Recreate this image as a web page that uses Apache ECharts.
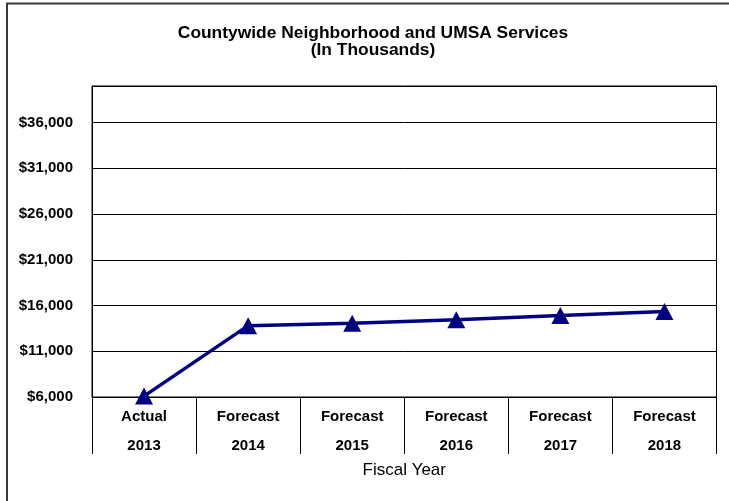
<!DOCTYPE html>
<html>
<head>
<meta charset="utf-8">
<title>Countywide Neighborhood and UMSA Services</title>
<script src="https://cdn.jsdelivr.net/npm/echarts@6/dist/echarts.min.js"></script>
<style>
  html, body { margin: 0; padding: 0; background: #fff; }
  #chart { width: 729px; height: 501px; }
</style>
</head>
<body>
<div id="chart"></div>
<script>
// Fiscal years: label row 1 (status) and row 2 (year)
const periodLabels = ['Actual', 'Forecast', 'Forecast', 'Forecast', 'Forecast', 'Forecast'];
const fiscalYears = ['2013', '2014', '2015', '2016', '2017', '2018'];
// Spending in thousands of dollars
const serviceValues = [6100, 13800, 14050, 14450, 14900, 15350];
// Value axis range
const yMin = 6000;
const yMax = 40000;
const yStep = 5000;

const categories = periodLabels.map((p, i) => p + '\n' + fiscalYears[i]);
const FONT = '"Liberation Sans", Arial, sans-serif';

function money(v) {
  return '$' + String(v).replace(/\B(?=(\d{3})+(?!\d))/g, ',');
}

const chart = echarts.init(document.getElementById('chart'), null, { renderer: 'canvas' });

chart.setOption({
  animation: false,
  backgroundColor: '#fff',
  title: {
    text: 'Countywide Neighborhood and UMSA Services\n(In Thousands)',
    left: 368,
    top: 20,
    textAlign: 'center',
    textStyle: {
      fontFamily: FONT,
      fontSize: 17.4,
      fontWeight: 'bold',
      color: '#000',
      lineHeight: 17
    }
  },
  graphic: [{
    type: 'rect',
    silent: true,
    shape: { x: 7, y: 3.5, width: 760, height: 540 },
    style: { fill: 'none', stroke: '#3a3a3a', lineWidth: 2 }
  }],
  grid: {
    left: 92,
    right: 12.5,
    top: 86,
    bottom: 104,
    show: true,
    borderColor: '#000',
    borderWidth: 1,
    backgroundColor: 'transparent'
  },
  xAxis: {
    type: 'category',
    data: categories,
    boundaryGap: true,
    name: 'Fiscal Year',
    nameLocation: 'middle',
    nameGap: 65,
    nameMoveOverlap: false,
    nameTextStyle: {
      fontFamily: FONT,
      fontSize: 17,
      color: '#000'
    },
    axisLine: { show: true, lineStyle: { color: '#000', width: 1 } },
    axisTick: {
      show: true,
      length: 57,
      alignWithLabel: false,
      lineStyle: { color: '#000', width: 1 }
    },
    axisLabel: {
      interval: 0,
      margin: 5,
      fontFamily: FONT,
      fontSize: 15,
      fontWeight: 'bold',
      color: '#000',
      lineHeight: 29
    },
    splitLine: { show: false }
  },
  yAxis: {
    type: 'value',
    min: yMin,
    max: yMax,
    interval: yStep,
    axisLine: { show: true, lineStyle: { color: '#000', width: 1 } },
    axisTick: { show: false },
    axisLabel: {
      showMaxLabel: false,
      margin: 19,
      fontFamily: FONT,
      fontSize: 15,
      fontWeight: 'bold',
      color: '#000',
      formatter: money
    },
    splitLine: { show: true, lineStyle: { color: '#000', width: 1 } }
  },
  series: [{
    type: 'line',
    data: serviceValues,
    symbol: 'triangle',
    symbolSize: [18, 17],
    lineStyle: { color: '#000080', width: 3.5 },
    itemStyle: { color: '#000080' },
    z: 5
  }]
});
</script>
</body>
</html>
